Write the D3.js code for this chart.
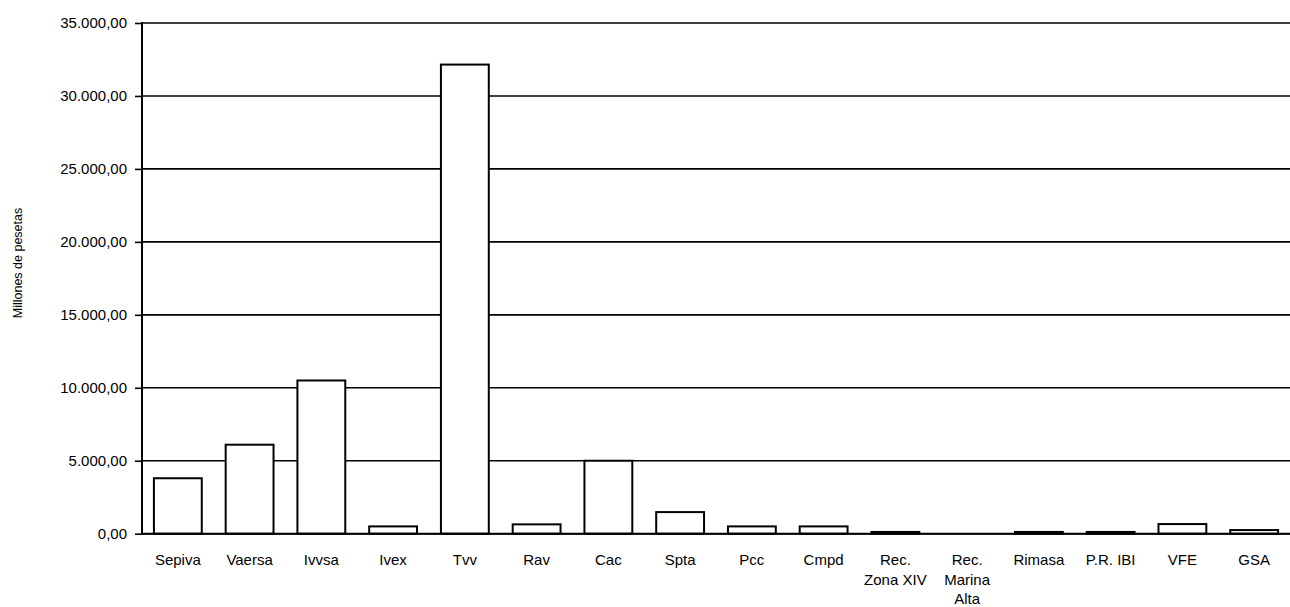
<!DOCTYPE html>
<html>
<head>
<meta charset="utf-8">
<script src="https://cdn.jsdelivr.net/npm/d3@7"></script>
<style>
  body { margin: 0; background: #fff; }
  text { font-family: "Liberation Sans", Arial, sans-serif; fill: #000; }
</style>
</head>
<body>
<svg id="chart" width="1290" height="607"></svg>
<script>
const categories = ["Sepiva", "Vaersa", "Ivvsa", "Ivex", "Tvv", "Rav", "Cac", "Spta", "Pcc", "Cmpd",
  "Rec. Zona XIV", "Rec. Marina Alta", "Rimasa", "P.R. IBI", "VFE", "GSA"]
const values = [3800, 6100, 10500, 500, 32150, 640, 5000, 1480, 500, 500, 120, 0, 120, 120, 660, 250]
const yTicks = [0, 5000, 10000, 15000, 20000, 25000, 30000, 35000]
// labels broken into lines as in the original
const labelLines = {
  "Rec. Zona XIV": ["Rec.", "Zona XIV"],
  "Rec. Marina Alta": ["Rec.", "Marina", "Alta"]
}

const margin = { top: 23, right: 0, bottom: 73, left: 142 }
const W = 1290, H = 607
const svg = d3.select("#chart")

const x = d3.scaleBand()
  .domain(categories)
  .range([margin.left, W - margin.right])
  .paddingInner(0.333)
  .paddingOuter(0.166)

const y = d3.scaleLinear()
  .domain([0, 35000])
  .range([H - margin.bottom - 0.3, margin.top])

const fmt = v => d3.format(",.2f")(v).replace(/,/g, "#").replace(/\./g, ",").replace(/#/g, ".")

// gridlines
svg.append("g")
  .selectAll("line")
  .data(yTicks)
  .enter()
  .append("line")
  .attr("x1", margin.left)
  .attr("x2", W)
  .attr("y1", d => y(d))
  .attr("y2", d => y(d))
  .attr("stroke", "#000")
  .attr("stroke-width", 1.6)

// bars
svg.append("g")
  .selectAll("rect")
  .data(values)
  .enter()
  .append("rect")
  .attr("x", (d, i) => x(categories[i]))
  .attr("width", x.bandwidth())
  .attr("y", d => y(d))
  .attr("height", d => y(0) - y(d))
  .attr("fill", "#fff")
  .attr("stroke", "#000")
  .attr("stroke-width", 2)

// y axis
const yAxis = d3.axisLeft(y).tickValues(yTicks).tickFormat(fmt).tickSize(7).tickPadding(8)
const gy = svg.append("g")
  .attr("transform", "translate(" + margin.left + ",0)")
  .call(yAxis)
gy.select(".domain").remove()
gy.selectAll(".tick line").attr("stroke-width", 1.6)
gy.selectAll("text").style("font-size", "15px").style("font-family", "Liberation Sans, Arial, sans-serif")
svg.append("line")
  .attr("x1", margin.left).attr("x2", margin.left)
  .attr("y1", y(35000) - 1).attr("y2", y(0) + 1)
  .attr("stroke", "#000").attr("stroke-width", 2)

// baseline
svg.append("line")
  .attr("x1", margin.left).attr("x2", W)
  .attr("y1", y(0)).attr("y2", y(0))
  .attr("stroke", "#000").attr("stroke-width", 2)

// x labels
const xl = svg.append("g")
  .selectAll("text")
  .data(categories)
  .enter()
  .append("text")
  .attr("text-anchor", "middle")
  .attr("x", d => x(d) + x.bandwidth() / 2)
  .attr("y", 565)
  .style("font-size", "15px")
xl.each(function (d) {
  const lines = labelLines[d] || [d]
  d3.select(this).selectAll("tspan")
    .data(lines)
    .enter()
    .append("tspan")
    .attr("x", x(d) + x.bandwidth() / 2)
    .attr("dy", (l, i) => i === 0 ? 0 : 19.5)
    .text(l => l)
})

// y title
svg.append("text")
  .attr("transform", "translate(22,263) rotate(-90)")
  .attr("text-anchor", "middle")
  .style("font-size", "12.5px")
  .text("Millones de pesetas")
</script>
</body>
</html>
